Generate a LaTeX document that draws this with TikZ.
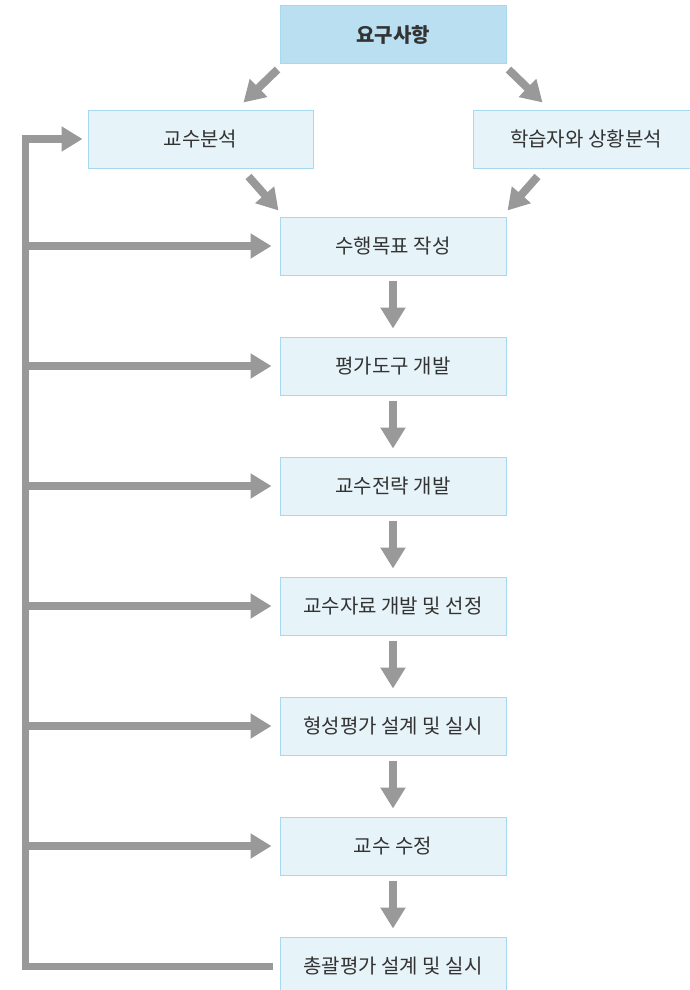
\documentclass[tikz,border=0pt]{standalone}
\usepackage{fontspec}
\setmainfont{Noto Sans CJK KR}
\usetikzlibrary{
  arrows.meta,
  calc,
  positioning
}
\definecolor{edge}{HTML}{A6D8EE}
\definecolor{headfill}{HTML}{B9DFF0}
\definecolor{stepfill}{HTML}{E6F3F9}
\definecolor{arrowgray}{HTML}{999999}
\definecolor{txt}{HTML}{333333}
\tikzset{
  stepbox/.style={
    draw=edge,
    line width=1pt,
    fill=stepfill,
    minimum height=58pt,
    minimum width=226pt,
    align=center,
    text=txt,
    font=\fontsize{20}{24}\selectfont
  },
  headbox/.style={stepbox, fill=headfill, font=\fontsize{20}{24}\selectfont\bfseries},
  arrow/.style={-{Triangle[length=21pt,width=24pt]}, line width=8pt, draw=arrowgray},
  loopline/.style={line width=7pt, draw=arrowgray}
}

\begin{document}
\begin{tikzpicture}[x=1pt, y=-1pt, node distance=61pt]
  \useasboundingbox (0,0) rectangle (689,990);

  \node[headbox] (req) at (393,35) {요구사항};
  \node[stepbox, minimum width=225pt] (instr) at (200.5,139) {교수분석};
  \node[stepbox] (learner) at (586,139) {학습자와 상황분석};

  \node[stepbox] (objectives) at (393,246) {수행목표 작성};
  \node[stepbox, below=of objectives] (assess) {평가도구 개발};
  \node[stepbox, below=of assess] (strategy) {교수전략 개발};
  \node[stepbox, below=of strategy] (material) {교수자료 개발 및 선정};
  \node[stepbox, below=of material] (formative) {형성평가 설계 및 실시};
  \node[stepbox, below=of formative] (revise) {교수 수정};
  \node[stepbox, below=of revise] (summative) {총괄평가 설계 및 실시};

  % diagonal arrows into and out of the analysis boxes
  \draw[arrow] ($(req.south west)+(-2,5)$) -- ($(req.south west)+(-36,38)$);
  \draw[arrow] ($(req.south east)+(2,5)$) -- ($(req.south east)+(36,38)$);
  \draw[arrow] ($(instr.south east)+(-65,8)$) -- ($(objectives.north west)+(-1,-6)$);
  \draw[arrow] ($(learner.south west)+(65,8)$) -- ($(objectives.north east)+(1,-6)$);

  % down the main column
  \foreach \a/\b in {objectives/assess, assess/strategy, strategy/material,
                     material/formative, formative/revise, revise/summative}
    \draw[arrow] ([yshift=-5pt]\a.south) -- ([yshift=8pt]\b.north);

  % feedback loop on the left
  \coordinate (corner) at (25,0);
  \draw[loopline] ([xshift=-7pt]summative.west) -| (corner |- instr.west);
  \draw[arrow] ([xshift=-3.5pt]corner |- instr.west) -- ([xshift=-5pt]instr.west);
  \foreach \n in {objectives, assess, strategy, material, formative, revise}
    \draw[arrow] (corner |- \n.west) -- ([xshift=-8pt]\n.west);
\end{tikzpicture}
\end{document}
